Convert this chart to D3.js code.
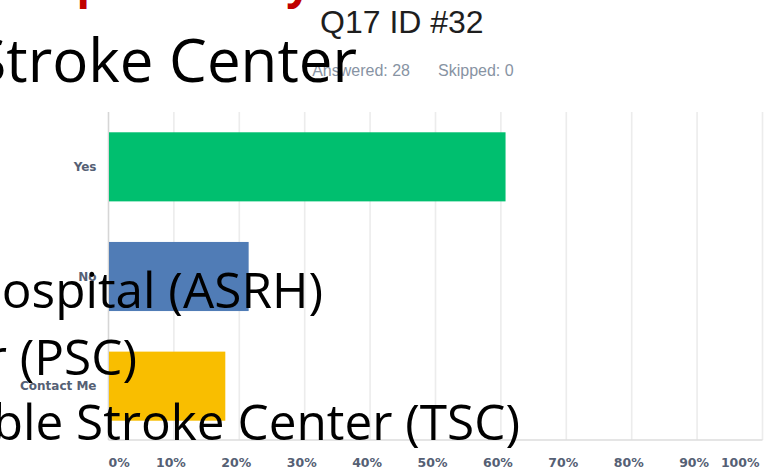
<!DOCTYPE html>
<html>
<head>
<meta charset="utf-8">
<script src="https://cdn.jsdelivr.net/npm/d3@7"></script>
<style>
  body { margin: 0; background: #fff; overflow: hidden; }
  svg { display: block; }
</style>
</head>
<body>
<script>
// survey answers, percent of 28 respondents
var categories = ["Yes", "No", "Contact Me"];
var percents = [60.71, 21.43, 17.86];
var barColors = ["#00bf6f", "#507cb6", "#f9be00"];
var tickValues = [0, 10, 20, 30, 40, 50, 60, 70, 80, 90, 100];
var tickLabels = ["0%", "10%", "20%", "30%", "40%", "50%", "60%", "70%", "80%", "90%", "100%"];

// slide text lying over the chart screenshot
var slideTitle = "Hospital Survey";
var slideLines = [
	"Comprehensive Stroke Center",
	"Acute Stroke Ready Hospital (ASRH)",
	"Primary Stroke Center (PSC)",
	"Thrombectomy-Capable Stroke Center (TSC)"
];

function makeChart() {
	var w = 769;
	var h = 470;

	var svg = d3.select("body")
		.append("svg")
		.attr("width", w)
		.attr("height", h);

	var data = categories.map(function(c, i) {
		return { label: c, value: percents[i], color: barColors[i] };
	});

	var xScale = d3.scaleLinear()
		.domain([0, 100])
		.range([108.5, 762.5]);

	var yScale = d3.scaleBand()
		.domain(categories)
		.range([112, 441])
		.paddingInner(0.37)
		.paddingOuter(0.185);

	//gridlines
	svg.selectAll("line.grid")
		.data(tickValues)
		.enter()
		.append("line")
		.attr("class", "grid")
		.attr("x1", function(d) { return xScale(d); })
		.attr("x2", function(d) { return xScale(d); })
		.attr("y1", 112)
		.attr("y2", 440)
		.attr("stroke", function(d) { return d == 0 ? "#d6d6d6" : "#ececec"; })
		.attr("stroke-width", 1.6);

	svg.append("line")
		.attr("x1", xScale(0))
		.attr("x2", xScale(100))
		.attr("y1", 440)
		.attr("y2", 440)
		.attr("stroke", "#dcdcdc")
		.attr("stroke-width", 1.6);

	svg.selectAll("rect.bar")
		.data(data)
		.enter()
		.append("rect")
		.attr("class", "bar")
		.attr("x", xScale(0) + 0.5)
		.attr("y", function(d) { return yScale(d.label); })
		.attr("width", function(d) { return xScale(d.value) - xScale(0) - 0.5; })
		.attr("height", yScale.bandwidth())
		.attr("fill", function(d) { return d.color; });

	//category labels
	svg.selectAll("text.cat")
		.data(data)
		.enter()
		.append("text")
		.attr("class", "cat")
		.attr("x", xScale(0) - 12)
		.attr("y", function(d) { return yScale(d.label) + yScale.bandwidth() / 2 + 4; })
		.attr("text-anchor", "end")
		.attr("font-family", "DejaVu Sans")
		.attr("font-weight", "bold")
		.attr("font-size", 12)
		.attr("fill", "#556074")
		.text(function(d) { return d.label; });

	//tick labels
	svg.selectAll("text.tick")
		.data(tickValues)
		.enter()
		.append("text")
		.attr("class", "tick")
		.attr("x", function(d, i) {
			if (i == 0) return xScale(d);
			return xScale(d) - 3;
		})
		.attr("y", 467)
		.attr("text-anchor", function(d, i) {
			if (i == 0) return "start";
			if (i == tickValues.length - 1) return "end";
			return "middle";
		})
		.attr("font-family", "DejaVu Sans")
		.attr("font-weight", "bold")
		.attr("font-size", 12.5)
		.attr("fill", "#556074")
		.text(function(d, i) { return tickLabels[i]; });

	//question title
	svg.append("text")
		.attr("x", 320)
		.attr("y", 33)
		.attr("font-family", "Liberation Sans")
		.attr("font-size", 32)
		.attr("fill", "#1e1e1e")
		.text("Q17 ID #32");

	svg.append("text")
		.attr("x", 410)
		.attr("y", 76)
		.attr("text-anchor", "end")
		.attr("font-family", "Liberation Sans")
		.attr("font-size", 16)
		.attr("fill", "#8793a3")
		.text("Answered: 28");

	svg.append("text")
		.attr("x", 438)
		.attr("y", 76)
		.attr("font-family", "Liberation Sans")
		.attr("font-size", 16)
		.attr("fill", "#8793a3")
		.text("Skipped: 0");

	//slide overlay, title mostly above the top edge
	svg.append("text")
		.attr("x", 1)
		.attr("y", -2.5)
		.attr("font-family", "Open Sans")
		.attr("font-weight", "bold")
		.attr("font-size", 44)
		.attr("letter-spacing", -2.4)
		.attr("fill", "#c00000")
		.text(slideTitle);

	var lineSpots = [
		{ x: 357, y: 82, size: 60, sx: 1.0 },
		{ x: 323, y: 308, size: 49, sx: 1.01 },
		{ x: 137, y: 375, size: 49, sx: 1.01 },
		{ x: 520, y: 440, size: 49, sx: 1.01 }
	];

	svg.selectAll("text.slide")
		.data(slideLines)
		.enter()
		.append("text")
		.attr("class", "slide")
		.attr("transform", function(d, i) {
			var s = lineSpots[i];
			return "translate(" + s.x + "," + s.y + ") scale(" + s.sx + ",1)";
		})
		.attr("text-anchor", "end")
		.attr("font-family", "Open Sans")
		.attr("font-size", function(d, i) { return lineSpots[i].size; })
		.attr("fill", "#000")
		.text(function(d) { return d; });
}

makeChart();
</script>
</body>
</html>
